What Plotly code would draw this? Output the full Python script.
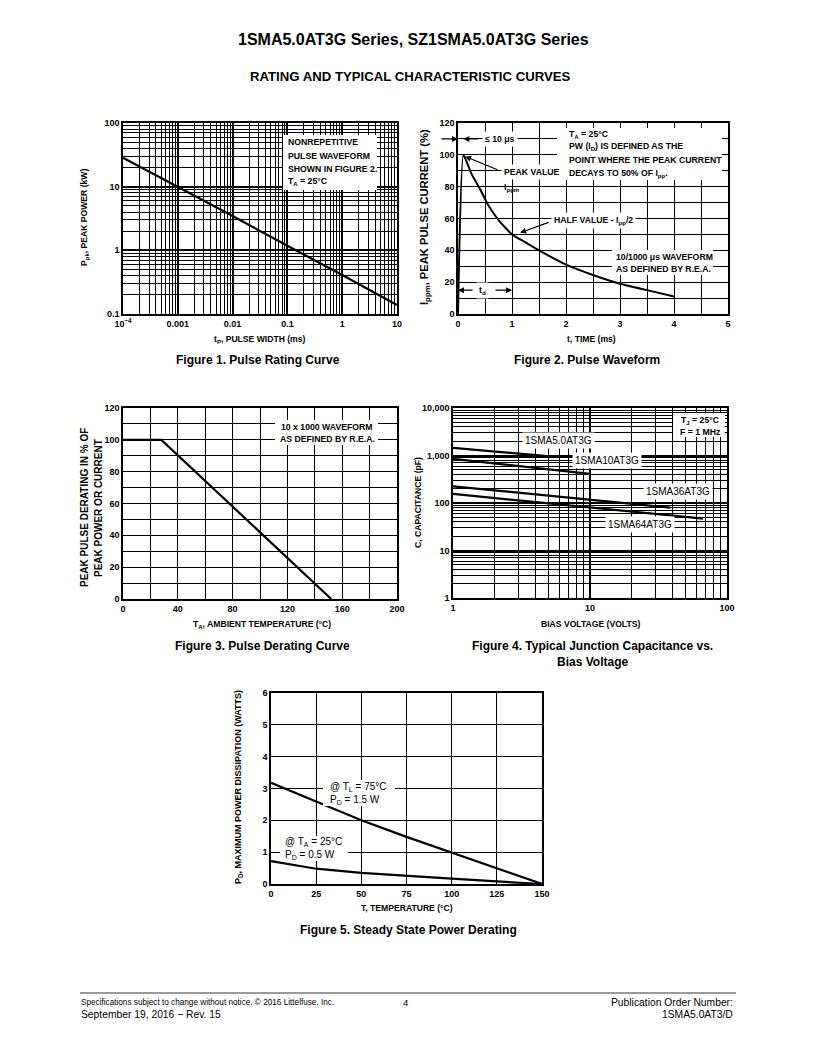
import plotly.graph_objects as go

# ---------------- data ----------------
# Figure 1: pulse rating curve
f1_tp = [1e-4, 1e-3, 1e-2, 1e-1, 1, 10]
f1_ppk = [28.5, 10.0, 3.45, 1.18, 0.41, 0.138]
f1_xtickvals = [1e-4, 1e-3, 1e-2, 1e-1, 1, 10]
f1_xticktext = ["10<sup>\u22124</sup>", "0.001", "0.01", "0.1", "1", "10"]
f1_ytickvals = [0.1, 1, 10, 100]
f1_yticktext = ["0.1", "1", "10", "100"]

# Figure 2: pulse waveform
f2_t = [0, 0.1, 0.25, 0.4, 0.55, 0.75, 1.0, 1.25, 1.5, 2.0, 2.5, 3.0, 3.5, 4.0]
f2_i = [0, 100, 88, 79, 69, 59, 50, 45, 40, 31, 24.5, 19, 15, 11]

# Figure 3: pulse derating curve
f3_t = [0, 28, 152]
f3_p = [100, 100, 0]

# Figure 4: junction capacitance
f4_v_5 = [1, 5.1]
f4_c_5 = [1450, 960]
f4_v_10 = [1, 10]
f4_c_10 = [850, 410]
f4_v_36 = [1, 38.5]
f4_c_36 = [225, 80]
f4_v_64 = [1, 67]
f4_c_64 = [155, 47]
f4_xtickvals = [1, 10, 100]
f4_xticktext = ["1", "10", "100"]
f4_ytickvals = [1, 10, 100, 1000, 10000]
f4_yticktext = ["1", "10", "100", "1,000", "10,000"]

# Figure 5: steady state power derating
f5_t = [0, 25, 50, 75, 100, 125, 150]
f5_pl = [3.18, 2.6, 2.0, 1.48, 0.98, 0.5, 0.0]
f5_pa = [0.72, 0.48, 0.35, 0.25, 0.17, 0.08, 0.0]

# ---------------- layout helpers ----------------
W, H = 816, 1056
OFF = 8                          # page body margin compensation
BF = "Liberation Sans, Arial"
RF = "Liberation Sans, Arial"
NS = 8.7                         # note text size
TS = 8.6                         # axis title size


def px(x):
    return (x - OFF) / W


def py(y):
    return 1 - (y - OFF) / H


def dom_x(a, b):
    return [px(a), px(b)]


def dom_y(top, bot):
    return [py(bot), py(top)]


tickfont = dict(family=BF, size=9, color="black", weight="bold")


def axis(**kw):
    base = dict(showline=True, mirror=True, linecolor="black", linewidth=1.5,
                showgrid=True, gridcolor="black", gridwidth=1, automargin=False,
                zeroline=False, ticks="", tickfont=tickfont, fixedrange=True)
    base.update(kw)
    return base


fig = go.Figure()
line = dict(color="black", width=2.2)

fig.add_trace(go.Scatter(x=f1_tp, y=f1_ppk, mode="lines", line=line, xaxis="x", yaxis="y"))
fig.add_trace(go.Scatter(x=f2_t, y=f2_i, mode="lines",
                         line=dict(color="black", width=2, shape="spline", smoothing=0.4),
                         xaxis="x2", yaxis="y2"))
fig.add_trace(go.Scatter(x=f3_t, y=f3_p, mode="lines", line=line, xaxis="x3", yaxis="y3"))
for vx, cy in [(f4_v_5, f4_c_5), (f4_v_10, f4_c_10), (f4_v_36, f4_c_36), (f4_v_64, f4_c_64)]:
    fig.add_trace(go.Scatter(x=vx, y=cy, mode="lines", line=line, xaxis="x4", yaxis="y4"))
fig.add_trace(go.Scatter(x=f5_t, y=f5_pl, mode="lines", line=line, xaxis="x5", yaxis="y5"))
fig.add_trace(go.Scatter(x=f5_t, y=f5_pa, mode="lines", line=line, xaxis="x5", yaxis="y5"))

logminor = dict(dtick="D1", showgrid=True, gridcolor="black", gridwidth=0.8)

fig.update_layout(
    template="none",
    width=W, height=H, margin=dict(l=0, r=0, t=0, b=0, pad=0, autoexpand=False),
    paper_bgcolor="white", plot_bgcolor="white", showlegend=False,
    font=dict(family=BF, color="black"),
    xaxis=axis(domain=dom_x(123, 397), anchor="y", type="log", range=[-4, 1],
               tickmode="array", tickvals=f1_xtickvals, ticktext=f1_xticktext, gridwidth=1.6,
               minor=logminor),
    yaxis=axis(domain=dom_y(123, 314), anchor="x", type="log", range=[-1, 2],
               tickmode="array", tickvals=f1_ytickvals, ticktext=f1_yticktext, gridwidth=1.6,
               minor=logminor),
    xaxis2=axis(domain=dom_x(458, 728), anchor="y2", range=[0, 5], dtick=1,
                minor=dict(dtick=0.5, showgrid=True, gridcolor="black", gridwidth=1)),
    yaxis2=axis(domain=dom_y(123, 314), anchor="x2", range=[0, 120], dtick=20,
                minor=dict(dtick=10, showgrid=True, gridcolor="black", gridwidth=1)),
    xaxis3=axis(domain=dom_x(123, 397), anchor="y3", range=[0, 200], dtick=40,
                minor=dict(dtick=20, showgrid=True, gridcolor="black", gridwidth=1)),
    yaxis3=axis(domain=dom_y(408, 599), anchor="x3", range=[0, 120], dtick=20,
                minor=dict(dtick=10, showgrid=True, gridcolor="black", gridwidth=1)),
    xaxis4=axis(domain=dom_x(453, 727), anchor="y4", type="log", range=[0, 2],
                tickmode="array", tickvals=f4_xtickvals, ticktext=f4_xticktext, gridwidth=1.6,
                minor=logminor),
    yaxis4=axis(domain=dom_y(408, 598), anchor="x4", type="log", range=[0, 4],
                tickmode="array", tickvals=f4_ytickvals, ticktext=f4_yticktext, gridwidth=1.6,
                minor=logminor),
    xaxis5=axis(domain=dom_x(271, 542), anchor="y5", range=[0, 150], dtick=25),
    yaxis5=axis(domain=dom_y(693, 884), anchor="x5", range=[0, 6], dtick=1),
)

ann = []
shapes = []
NOBG = "rgba(0,0,0,0)"


def ptext(x, y, text, size=10, family=BF, xanchor="center", yanchor="middle", angle=0,
          align="center", bg=NOBG, pad=0):
    ann.append(dict(x=px(x), y=py(y), xref="paper", yref="paper", text=text, showarrow=False,
                    xanchor=xanchor, yanchor=yanchor, textangle=angle, align=align,
                    bgcolor=bg, borderpad=pad,
                    font=dict(family=family, size=size, color="black")))


def lines(x, ys, texts, size=NS, family=BF, xanchor="left"):
    for yy, tt in zip(ys, texts):
        ptext(x, yy, tt, size=size, family=family, xanchor=xanchor)


def dtext(xr, yr, x, y, text, size=NS, family=BF, xanchor="center", yanchor="middle",
          align="center", bg="white", pad=2):
    ann.append(dict(x=x, y=y, xref=xr, yref=yr, text=text, showarrow=False,
                    xanchor=xanchor, yanchor=yanchor, align=align, bgcolor=bg, borderpad=pad,
                    font=dict(family=family, size=size, color="black")))


def arrow(xr, yr, x, y, ax, ay):
    ann.append(dict(x=x, y=y, xref=xr, yref=yr, text="", showarrow=True, ax=ax, ay=ay,
                    arrowhead=2, arrowsize=1, arrowwidth=1.2, arrowcolor="black", standoff=0))


def whitebox(x0, y0, x1, y1):
    shapes.append(dict(type="rect", xref="paper", yref="paper", layer="above",
                       x0=px(x0), x1=px(x1), y0=py(y1), y1=py(y0),
                       fillcolor="white", line=dict(width=0)))


# Header
ptext(413, 40, "<b>1SMA5.0AT3G Series, SZ1SMA5.0AT3G Series</b>", size=16, family=RF)
ptext(410, 77, "<b>RATING AND TYPICAL CHARACTERISTIC CURVES</b>", size=13.2, family=RF)

# Captions
ptext(258, 360, "<b>Figure 1. Pulse Rating Curve</b>", size=12)
ptext(587, 360, "<b>Figure 2. Pulse Waveform</b>", size=12)
ptext(262, 646, "<b>Figure 3. Pulse Derating Curve</b>", size=12)
ptext(592, 646, "<b>Figure 4. Typical Junction Capacitance vs.</b>", size=12)
ptext(592, 662, "<b>Bias Voltage</b>", size=12)
ptext(408, 930, "<b>Figure 5. Steady State Power Derating</b>", size=12)

# Axis titles
ptext(260, 339, "<b>t<sub>P</sub>, PULSE WIDTH (ms)</b>", size=TS)
ptext(84, 218, "<b>P<sub>pk</sub>, PEAK POWER (kW)</b>", size=TS, angle=-90)
ptext(591, 339, "<b>t, TIME (ms)</b>", size=TS)
ptext(425, 217, "<b>I<sub>ppm</sub>, PEAK PULSE CURRENT (%)</b>", size=11.2, angle=-90)
ptext(262, 624, "<b>T<sub>A</sub>, AMBIENT TEMPERATURE (\u00b0C)</b>", size=TS)
ptext(84, 508, "<b>PEAK PULSE DERATING IN % OF</b>", size=10, angle=-90)
ptext(98, 508, "<b>PEAK POWER OR CURRENT</b>", size=10, angle=-90)
ptext(590, 624, "<b>BIAS VOLTAGE (VOLTS)</b>", size=TS)
ptext(418, 503, "<b>C, CAPACITANCE (pF)</b>", size=TS, angle=-90)
ptext(407, 908, "<b>T, TEMPERATURE (\u00b0C)</b>", size=TS)
ptext(238, 787, "<b>P<sub>D</sub>, MAXIMUM POWER DISSIPATION (WATTS)</b>", size=9, angle=-90)

# Figure 1 note
whitebox(283, 135, 377, 190)
lines(287, [142.3, 155.7, 169, 181.7],
      ["<b>NONREPETITIVE</b>", "<b>PULSE WAVEFORM</b>", "<b>SHOWN IN FIGURE 2.</b>",
       "<b>T<sub>A</sub> = 25\u00b0C</b>"])

# Figure 2 notes
whitebox(557, 128, 722, 180)
lines(568, [135, 147, 160, 173],
      ["<b>T<sub>A</sub> = 25\u00b0C</b>", "<b>PW (I<sub>D</sub>) IS DEFINED AS THE</b>",
       "<b>POINT WHERE THE PEAK CURRENT</b>", "<b>DECAYS TO 50% OF I<sub>pp</sub>.</b>"])
arrow("x2", "y2", 0, 110, -18, 0)
arrow("x2", "y2", 0.1, 110, 16, 0)
dtext("x2", "y2", 0.78, 110, "<b>\u2264 10 \u03bcs</b>")
dtext("x2", "y2", 0.79, 89.4, "<b>PEAK VALUE</b>", xanchor="left")
dtext("x2", "y2", 0.80, 79.5, "<b>I<sub>ppm</sub></b>", xanchor="left", bg=NOBG)
arrow("x2", "y2", 0.13, 99, 34, 14)
dtext("x2", "y2", 1.73, 59, "<b>HALF VALUE - I<sub>pp</sub>/2</b>", xanchor="left")
arrow("x2", "y2", 1.15, 51, 30, -11)
whitebox(612, 250, 713, 275)
lines(615, [256.7, 269.3], ["<b>10/1000 \u03bcs WAVEFORM</b>", "<b>AS DEFINED BY R.E.A.</b>"])
arrow("x2", "y2", 0, 15, 16, 0)
arrow("x2", "y2", 1, 15, -18, 0)
dtext("x2", "y2", 0.45, 15, "<b>t<sub>d</sub></b>")

# Figure 3 note
whitebox(275, 420, 378, 445)
lines(327, [427.3, 439.3], ["<b>10 x 1000 WAVEFORM</b>", "<b>AS DEFINED BY R.E.A.</b>"],
      xanchor="center")

# Figure 4 labels
whitebox(673, 413, 725, 437)
lines(700, [420, 432], ["<b>T<sub>J</sub> = 25\u00b0C</b>", "<b>F = 1 MHz</b>"], xanchor="center")
dtext("x4", "y4", 0.769, 3.326, "1SMA5.0AT3G", size=10, family=RF)
dtext("x4", "y4", 1.122, 2.905, "1SMA10AT3G", size=10, family=RF)
dtext("x4", "y4", 1.645, 2.238, "1SMA36AT3G", size=10, family=RF)
dtext("x4", "y4", 1.365, 1.537, "1SMA64AT3G", size=10, family=RF)

# Figure 5 labels
whitebox(323, 780, 395, 806)
lines(329.3, [786.7, 799.5], ["@ T<sub>L</sub> = 75\u00b0C", "P<sub>D</sub> = 1.5 W"],
      size=10, family=RF)
whitebox(280, 836, 348, 861)
lines(284.3, [842.3, 855], ["@ T<sub>A</sub> = 25\u00b0C", "P<sub>D</sub> = 0.5 W"],
      size=10, family=RF)

# Footer
ptext(80, 1002, "Specifications subject to change without notice. \u00a9 2016 Littelfuse, Inc.",
      size=8.2, family=RF, xanchor="left")
ptext(80, 1014, "September 19, 2016 \u2212 Rev. 15", size=10.3, family=RF, xanchor="left")
ptext(405, 1002, "4", size=9.5, family=RF)
ptext(734, 1002, "Publication Order Number:", size=10.3, family=RF, xanchor="right")
ptext(734, 1014, "1SMA5.0AT3/D", size=10.3, family=RF, xanchor="right")

shapes.append(dict(type="line", xref="paper", yref="paper", x0=px(80), x1=px(736),
                   y0=py(993), y1=py(993), line=dict(color="#9a9a9a", width=2)))

fig.update_layout(annotations=ann, shapes=shapes)

fig.write_html("out.html")
